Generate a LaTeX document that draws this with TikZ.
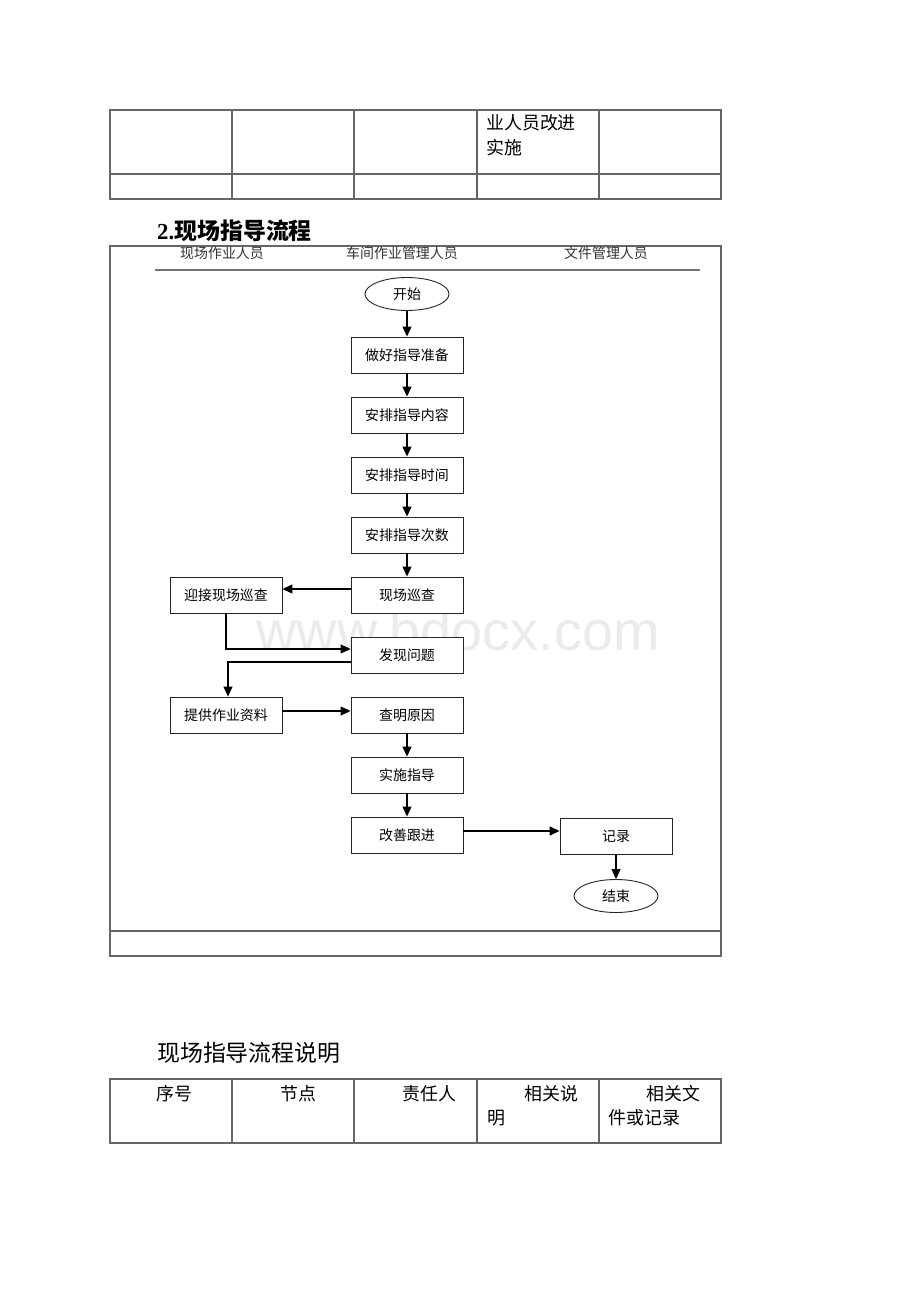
\documentclass[tikz,border=0pt]{standalone}
\usepackage{fontspec}
\setmainfont{Liberation Serif}
\setsansfont{Liberation Sans}
\newfontfamily\cjk{Noto Sans CJK SC}
\usetikzlibrary{shapes.geometric}
\usetikzlibrary{arrows.meta}
\tikzset{x=1bp, y=-1bp,
box/.style={ % process steps
draw=black!85, fill=white, line width=0.9bp,
minimum width=112bp, minimum height=36bp, inner sep=0pt,
font=\cjk\fontsize{14}{16}\selectfont},
term/.style={ % start and end
ellipse, draw=black!85, fill=white, line width=0.9bp,
minimum width=84bp, minimum height=33bp, inner sep=0pt,
font=\cjk\fontsize{14}{16}\selectfont},
flow/.style={ % arrows between steps
draw=black, line width=1.1bp,
-{Triangle[length=10bp,width=9bp]}},
lane/.style={font=\cjk\fontsize{14}{16}\selectfont, text=black!80},
grid/.style={draw=black!60, line width=1.1bp},
cell/.style={anchor=base west, inner sep=0pt,
font=\cjk\fontsize{18}{20}\selectfont}}

\begin{document}
\begin{tikzpicture}
	\useasboundingbox (0,0) rectangle (920,1302);
	\fill[white] (0,0) rectangle (920,1302);
	% end of the table above
	\draw[grid] (110,110) rectangle (721,199);
	\draw[grid] (110,174) -- (721,174);
	\foreach \cx in {232,354,477,599}
		\draw[grid] (\cx,110) -- (\cx,199);
	\node[cell] (t1a) at (486,130) {业人员改进};
	\node[cell] (t1b) at (486,155) {实施};
	% title
	\node[anchor=base west, inner sep=0pt, font=\fontsize{23}{25}\selectfont\bfseries] (title) at (157,240) {2.{\cjk 现场指导流程}};
	% watermark
	\node[anchor=base, inner sep=0pt, text=black!8, font=\sffamily\fontsize{56}{60}\selectfont] (mark) at (458,650) {www.bdocx.com};
	% frame and lanes
	\draw[grid] (110,246) rectangle (721,956);
	\draw[grid] (110,931) -- (721,931);
	\draw[draw=black!55, line width=2bp] (155,270) -- (700,270);
	\node[lane] (l1) at (222,253) {现场作业人员};
	\node[lane] (l2) at (402,253) {车间作业管理人员};
	\node[lane] (l3) at (606,253) {文件管理人员};
	% steps
	\node[term] (ks) at (407,294) {开始};
	\node[box] (zb) at (407,355) {做好指导准备};
	\node[box] (nr) at (407,415) {安排指导内容};
	\node[box] (sj) at (407,475) {安排指导时间};
	\node[box] (cs) at (407,535) {安排指导次数};
	\node[box] (xc) at (407,595) {现场巡查};
	\node[box] (yj) at (226,595) {迎接现场巡查};
	\node[box] (fx) at (407,655) {发现问题};
	\node[box] (tg) at (226,715) {提供作业资料};
	\node[box] (cm) at (407,715) {查明原因};
	\node[box] (ss) at (407,775) {实施指导};
	\node[box] (gs) at (407,835) {改善跟进};
	\node[box] (jl) at (616,836) {记录};
	\node[term] (js) at (616,896) {结束};
	% connectors
	\draw[flow] (ks) -- (zb);
	\draw[flow] (zb) -- (nr);
	\draw[flow] (nr) -- (sj);
	\draw[flow] (sj) -- (cs);
	\draw[flow] (cs) -- (xc);
	\draw[flow] ([yshift=6bp]xc.west) -- ([yshift=6bp]yj.east);
	\draw[flow] (yj.south) |- ([yshift=6bp]fx.west);
	\draw[flow] ([yshift=-7bp]fx.west) -| ([xshift=2bp]tg.north);
	\draw[flow] ([yshift=4bp]tg.east) -- ([yshift=4bp]cm.west);
	\draw[flow] (cm) -- (ss);
	\draw[flow] (ss) -- (gs);
	\draw[flow] ([yshift=4bp]gs.east) -- ([yshift=5bp]jl.west);
	\draw[flow] (jl) -- (js);
	% description table
	\node[anchor=base west, inner sep=0pt, font=\cjk\fontsize{23}{25}\selectfont] (sub) at (157,1061) {现场指导流程说明};
	\draw[grid] (110,1079) rectangle (721,1143);
	\foreach \cx in {232,354,477,599}
		\draw[grid] (\cx,1079) -- (\cx,1143);
	\node[cell] (h1) at (156,1100) {序号};
	\node[cell] (h2) at (280,1100) {节点};
	\node[cell] (h3) at (402,1100) {责任人};
	\node[cell] (h4a) at (524,1100) {相关说};
	\node[cell] (h4b) at (487,1124) {明};
	\node[cell] (h5a) at (646,1100) {相关文};
	\node[cell] (h5b) at (608,1124) {件或记录};
\end{tikzpicture}
\end{document}
